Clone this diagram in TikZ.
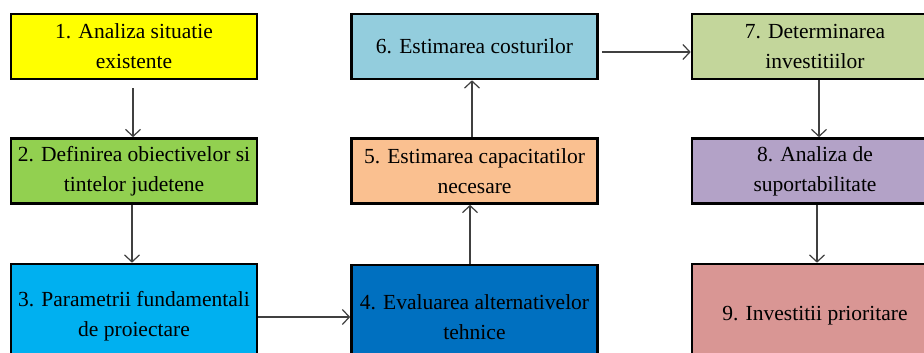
\documentclass[tikz,border=0pt]{standalone}
\usepackage{fontspec}
\setmainfont{Liberation Serif}
\usetikzlibrary{arrows.meta}
\definecolor{c1}{HTML}{FFFF00}
\definecolor{c2}{HTML}{92D050}
\definecolor{c3}{HTML}{00B0F0}
\definecolor{c4}{HTML}{0070C0}
\definecolor{c5}{HTML}{FAC090}
\definecolor{c6}{HTML}{93CDDD}
\definecolor{c7}{HTML}{C3D69B}
\definecolor{c8}{HTML}{B3A2C7}
\definecolor{c9}{HTML}{D99694}
\definecolor{arr}{HTML}{404040}
\tikzset{
  x=1pt,y=1pt,
  box/.style={draw=black,line width=2.6pt,rectangle,minimum width=246pt,minimum height=65pt,
    inner sep=0pt,align=center,font=\fontsize{21.5}{30}\selectfont},
  tallbox/.style={box,minimum height=104pt},
  conn/.style={draw=arr,line width=1.3pt,-{Straight Barb[length=7pt,width=15pt,line width=1.2pt]}}
}
\begin{document}
\begin{tikzpicture}
\useasboundingbox (0,0) rectangle (924,-353);
\clip (0,0) rectangle (924,-353);
\fill[white] (0,0) rectangle (924,-353);
\node[box,fill=c1] (n1) at (134,-46.5) {1. Analiza situatie\\existente};
\node[box,fill=c2] (n2) at (134,-171) {2. Definirea obiectivelor si\\tintelor judetene};
\node[tallbox,fill=c3] (n3) at (134,-316) {3. Parametrii fundamentali\\de proiectare};
\node[tallbox,fill=c4] (n4) at (474.5,-317) {4. Evaluarea alternativelor\\tehnice};
\node[box,fill=c5] (n5) at (474.5,-171) {5. Estimarea capacitatilor\\necesare};
\node[box,fill=c6] (n6) at (474.5,-46.5) {6. Estimarea costurilor};
\node[box,fill=c7] (n7) at (815,-46.5) {7. Determinarea\\investitiilor};
\node[box,fill=c8] (n8) at (815,-171) {8. Analiza de\\suportabilitate};
\node[tallbox,fill=c9] (n9) at (815,-316) {9. Investitii prioritare};
\draw[conn,shorten <=8pt] (n1.south -| 133,0) -- (n2.north -| 133,0);
\draw[conn] (n2.south -| 132,0) -- (n3.north -| 132,0);
\draw[conn] (n3.east |- 0,-317) -- (n4.west |- 0,-317);
\draw[conn] (n4.north -| 470,0) -- (n5.south -| 470,0);
\draw[conn] (n5.north -| 472,0) -- (n6.south -| 472,0);
\draw[conn,shorten <=3pt] (n6.east |- 0,-52) -- (n7.west |- 0,-52);
\draw[conn] (n7.south -| 819,0) -- (n8.north -| 819,0);
\draw[conn] (n8.south -| 817,0) -- (n9.north -| 817,0);
\end{tikzpicture}
\end{document}
